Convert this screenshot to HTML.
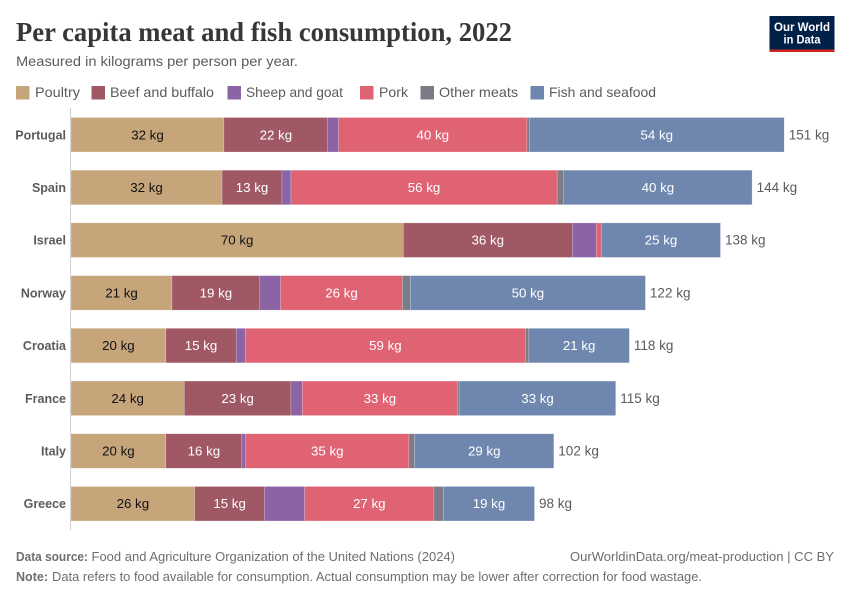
<!DOCTYPE html>
<html lang="en">
<head>
<meta charset="utf-8">
<title>Per capita meat and fish consumption, 2022</title>
<style>
  html, body { margin: 0; padding: 0; background: #fff; }
  svg { display: block; font-family: "Liberation Sans", sans-serif; }
</style>
</head>
<body>
<svg id="chart" width="850" height="600" viewBox="0 0 850 600" xmlns="http://www.w3.org/2000/svg">
  <rect x="0" y="0" width="850" height="600" fill="#ffffff"/>

  <text x="16" y="41" font-family="'Liberation Serif', serif" font-weight="700" font-size="27" fill="#373737" textLength="496" lengthAdjust="spacingAndGlyphs">Per capita meat and fish consumption, 2022</text>
  <text x="16" y="66" font-size="14" fill="#5b5b5b" textLength="282" lengthAdjust="spacingAndGlyphs">Measured in kilograms per person per year.</text>

  <g>
    <rect x="769.5" y="16" width="65" height="36" fill="#002147"/>
    <rect x="769.5" y="49.5" width="65" height="2.5" fill="#ce261e"/>
    <text x="802" y="31" text-anchor="middle" font-size="12" font-weight="700" fill="#ffffff" textLength="56" lengthAdjust="spacingAndGlyphs">Our World</text>
    <text x="802" y="43.5" text-anchor="middle" font-size="12" font-weight="700" fill="#ffffff" textLength="37" lengthAdjust="spacingAndGlyphs">in Data</text>
  </g>

  <g font-size="14" fill="#5b5b5b">
    <g>
      <rect x="16" y="86" width="13.5" height="13.5" fill="#c6a57b"/>
      <text x="35" y="97" textLength="45" lengthAdjust="spacingAndGlyphs">Poultry</text>
    </g>
    <g>
      <rect x="91.5" y="86" width="13.5" height="13.5" fill="#9f5864"/>
      <text x="110" y="97" textLength="104" lengthAdjust="spacingAndGlyphs">Beef and buffalo</text>
    </g>
    <g>
      <rect x="227.5" y="86" width="13.5" height="13.5" fill="#8c64a6"/>
      <text x="246" y="97" textLength="97" lengthAdjust="spacingAndGlyphs">Sheep and goat</text>
    </g>
    <g>
      <rect x="360" y="86" width="13.5" height="13.5" fill="#e06374"/>
      <text x="379" y="97" textLength="29" lengthAdjust="spacingAndGlyphs">Pork</text>
    </g>
    <g>
      <rect x="420.5" y="86" width="13.5" height="13.5" fill="#7b7c85"/>
      <text x="439" y="97" textLength="79" lengthAdjust="spacingAndGlyphs">Other meats</text>
    </g>
    <g>
      <rect x="530.5" y="86" width="13.5" height="13.5" fill="#6f87af"/>
      <text x="549" y="97" textLength="107" lengthAdjust="spacingAndGlyphs">Fish and seafood</text>
    </g>
  </g>

  <line x1="70.5" y1="108" x2="70.5" y2="530" stroke="#cfcfcf" stroke-width="1"/>
  <g id="bars"></g>

  <g font-size="13" fill="#6e6e6e">
    <text x="16" y="561" font-weight="700" textLength="72" lengthAdjust="spacingAndGlyphs">Data source:</text>
    <text x="91.5" y="561" textLength="363.5" lengthAdjust="spacingAndGlyphs">Food and Agriculture Organization of the United Nations (2024)</text>
    <text x="570" y="561" textLength="264" lengthAdjust="spacingAndGlyphs">OurWorldinData.org/meat-production | CC BY</text>
    <text x="16" y="581" font-weight="700" textLength="32" lengthAdjust="spacingAndGlyphs">Note:</text>
    <text x="52" y="581" textLength="650" lengthAdjust="spacingAndGlyphs">Data refers to food available for consumption. Actual consumption may be lower after correction for food wastage.</text>
  </g>
</svg>

<script>
const countries = ["Portugal", "Spain", "Israel", "Norway", "Croatia", "France", "Italy", "Greece"];
const poultry = [32.4, 32.0, 70.4, 21.4, 20.1, 24.0, 20.1, 26.2];
const beefAndBuffalo = [22.0, 12.7, 35.8, 18.6, 14.9, 22.6, 16.1, 14.8];
const sheepAndGoat = [2.3, 1.9, 5.1, 4.4, 1.9, 2.4, 0.8, 8.5];
const pork = [39.9, 56.4, 1.1, 25.8, 59.4, 32.9, 34.6, 27.4];
const otherMeats = [0.5, 1.4, 0, 1.7, 0.7, 0.4, 1.2, 2.0];
const fishAndSeafood = [54.0, 39.9, 25.2, 49.8, 21.3, 33.1, 29.49, 19.3];
const seriesNames = ["poultry", "beef-and-buffalo", "sheep-and-goat", "pork", "other-meats", "fish-and-seafood"];
const seriesValues = [poultry, beefAndBuffalo, sheepAndGoat, pork, otherMeats, fishAndSeafood];
const seriesColors = ["#c6a57b", "#9f5864", "#8c64a6", "#e06374", "#7b7c85", "#6f87af"];
const labelColors = ["#111111", "#ffffff", "#ffffff", "#ffffff", "#ffffff", "#ffffff"];
const unit = " kg";
const minLabelledValue = 10;

const SVG_NS = "http://www.w3.org/2000/svg";
const xOrigin = 71;
const pxPerKg = 4.72;
const firstBarTop = 117.5;
const barStep = 52.71;
const barHeight = 34.5;

function xScale(v) { return xOrigin + v * pxPerKg; }
function yBand(i) { return firstBarTop + i * barStep; }

function makeText(content, x, y, fill, anchor, weight, size) {
  const t = document.createElementNS(SVG_NS, "text");
  t.setAttribute("x", x);
  t.setAttribute("y", y);
  t.setAttribute("fill", fill);
  t.setAttribute("font-size", size);
  t.setAttribute("text-anchor", anchor);
  if (weight) t.setAttribute("font-weight", weight);
  t.textContent = content;
  return t;
}

const barsGroup = document.getElementById("bars");

countries.forEach(function (country, i) {
  const top = yBand(i);
  const mid = top + barHeight / 2;
  const baseline = mid + 4.5;

  const row = document.createElementNS(SVG_NS, "g");
  
  

  const yLabel = makeText(country, 66, baseline, "#5b5b5b", "end", "700", "12.5");
  
  
  row.appendChild(yLabel);

  let cumulative = 0;
  seriesValues.forEach(function (values, s) {
    const value = values[i];
    const x0 = xScale(cumulative);
    const x1 = xScale(cumulative + value);
    cumulative += value;
    if (value <= 0) return;

    const seg = document.createElementNS(SVG_NS, "rect");
    seg.setAttribute("x", x0);
    seg.setAttribute("y", top);
    seg.setAttribute("width", x1 - x0);
    seg.setAttribute("height", barHeight);
    seg.setAttribute("fill", seriesColors[s]);
    seg.setAttribute("stroke", "#ffffff");
    seg.setAttribute("stroke-width", "0.5");
    seg.setAttribute("stroke-opacity", "0.4");
    
    
    row.appendChild(seg);

    if (value >= minLabelledValue) {
      const valueLabel = makeText(Math.round(value) + unit, (x0 + x1) / 2, baseline, labelColors[s], "middle", null, "13.3");
      
      
      row.appendChild(valueLabel);
    }
  });

  const totalLabel = makeText(Math.round(cumulative) + unit, xScale(cumulative) + 4.5, baseline, "#5b5b5b", "start", null, "13.5");
  
  
  row.appendChild(totalLabel);

  barsGroup.appendChild(row);
});
</script>
</body>
</html>
